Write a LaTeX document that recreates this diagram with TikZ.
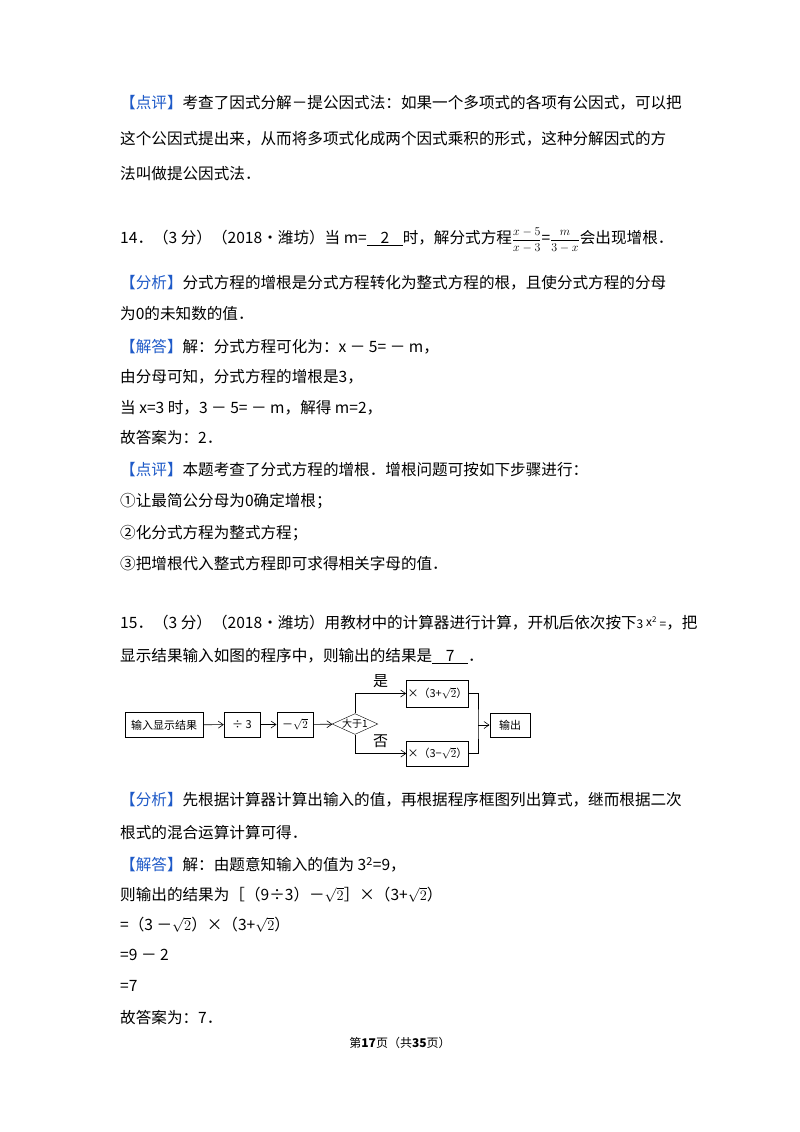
\documentclass[tikz,border=0pt]{standalone}
\usepackage{fontspec}
\setmainfont{Noto Sans CJK SC}
\usetikzlibrary{shapes.geometric,arrows.meta}
\definecolor{lblue}{RGB}{30,90,200}
\newcommand{\lb}[1]{\textcolor{lblue}{【#1】}}
\newcommand{\myfr}[2]{{\fontsize{13}{13}\selectfont$\displaystyle\frac{#1}{#2}$}}
\begin{document}
\begin{tikzpicture}[x=1pt,y=-1pt,
  txt/.style={anchor=west,inner sep=0pt,font=\fontsize{15.6}{19}\selectfont},
  fbox/.style={draw,minimum height=25pt,inner sep=1pt,font=\fontsize{11}{12}\selectfont},
  arr/.style={-{Straight Barb[length=5pt,width=7pt]},line width=0.6pt}]
\useasboundingbox (0,0) rectangle (800,1132);
\fill[white] (0,0) rectangle (800,1132);
\node[txt] (a1) at (120,103) {\lb{点评}考查了因式分解－提公因式法：如果一个多项式的各项有公因式，可以把};
\node[txt] (a2) at (120,139) {这个公因式提出来，从而将多项式化成两个因式乘积的形式，这种分解因式的方};
\node[txt] (a3) at (120,174) {法叫做提公因式法．};
\node[txt] (b1) at (120,240) {14．（3 分）（2018•潍坊）当 m=\underline{\makebox[2.3em]{2}}时，解分式方程\myfr{x-5}{x-3}=\myfr{m}{3-x}会出现增根．};
\node[txt] (b2) at (120,283) {\lb{分析}分式方程的增根是分式方程转化为整式方程的根，且使分式方程的分母};
\node[txt] (b3) at (120,314) {为0的未知数的值．};
\node[txt] (b4) at (120,347) {\lb{解答}解：分式方程可化为：x － 5= － m，};
\node[txt] (b5) at (120,377) {由分母可知，分式方程的增根是3，};
\node[txt] (b6) at (120,408) {当 x=3 时，3 － 5= － m，解得 m=2，};
\node[txt] (b7) at (120,438) {故答案为：2．};
\node[txt] (b8) at (120,470) {\lb{点评}本题考查了分式方程的增根．增根问题可按如下步骤进行：};
\node[txt] (b9) at (120,501) {①让最简公分母为0确定增根；};
\node[txt] (b10) at (120,533) {②化分式方程为整式方程；};
\node[txt] (b11) at (120,564) {③把增根代入整式方程即可求得相关字母的值．};
\node[txt] (c1) at (120,623) {15．（3 分）（2018•潍坊）用教材中的计算器进行计算，开机后依次按下{\fontsize{12}{12}\selectfont 3 \raisebox{2pt}{x\textsuperscript{2}} =}，把};
\node[txt] (c2) at (120,656) {显示结果输入如图的程序中，则输出的结果是\underline{\makebox[2.3em]{7}}．};
% flowchart
\node[fbox,line width=1pt,minimum width=78pt] (in) at (164,725) {输入显示结果};
\node[fbox,line width=0.5pt,minimum width=36pt] (d3) at (242,724.5) {÷ 3};
\node[fbox,line width=1pt,minimum width=36pt] (s2) at (295,724.5) {－$\sqrt{2}$};
\node[diamond,draw,aspect=2.2,minimum width=44pt,minimum height=20pt,inner sep=0pt,font=\fontsize{10}{10}\selectfont] (dm) at (355,724) {大于1};
\node[fbox,line width=1pt,minimum width=61pt,minimum height=27pt] (up) at (437.5,693.5) {×（3+$\sqrt{2}$）};
\node[fbox,line width=0.5pt,minimum width=61pt] (dn) at (437.5,753.5) {×（3−$\sqrt{2}$）};
\node[fbox,line width=1pt,minimum width=40pt,minimum height=24pt] (out) at (510,725) {输出};
\coordinate (j) at (478,725);
\draw[arr] (in) -- (d3);
\draw[arr] (d3) -- (s2);
\draw[arr] (s2) -- (dm);
\draw[arr] (dm.north) |- (up.west) node[pos=0.75,above=2pt,font=\fontsize{15}{15}\selectfont]{是};
\draw[arr] (dm.south) |- (dn.west) node[pos=0.75,above=2pt,font=\fontsize{15}{15}\selectfont]{否};
\draw[line width=0.6pt] (up.east) -| (j) |- (dn.east);
\draw[arr] (j) -- (out);
% analysis
\node[txt] (e1) at (120,800) {\lb{分析}先根据计算器计算出输入的值，再根据程序框图列出算式，继而根据二次};
\node[txt] (e2) at (120,833) {根式的混合运算计算可得．};
\node[txt] (e3) at (120,865) {\lb{解答}解：由题意知输入的值为 3\textsuperscript{2}=9，};
\node[txt] (e4) at (120,895) {则输出的结果为［（9÷3）－$\sqrt{2}$］×（3+$\sqrt{2}$）};
\node[txt] (e5) at (120,925) {=（3 －$\sqrt{2}$）×（3+$\sqrt{2}$）};
\node[txt] (e6) at (120,955) {=9 － 2};
\node[txt] (e7) at (120,986) {=7};
\node[txt] (e8) at (120,1018) {故答案为：7．};
\node[inner sep=0pt,font=\fontsize{12}{14}\selectfont] (ft) at (400,1043) {第\textbf{17}页（共\textbf{35}页）};
\end{tikzpicture}
\end{document}
